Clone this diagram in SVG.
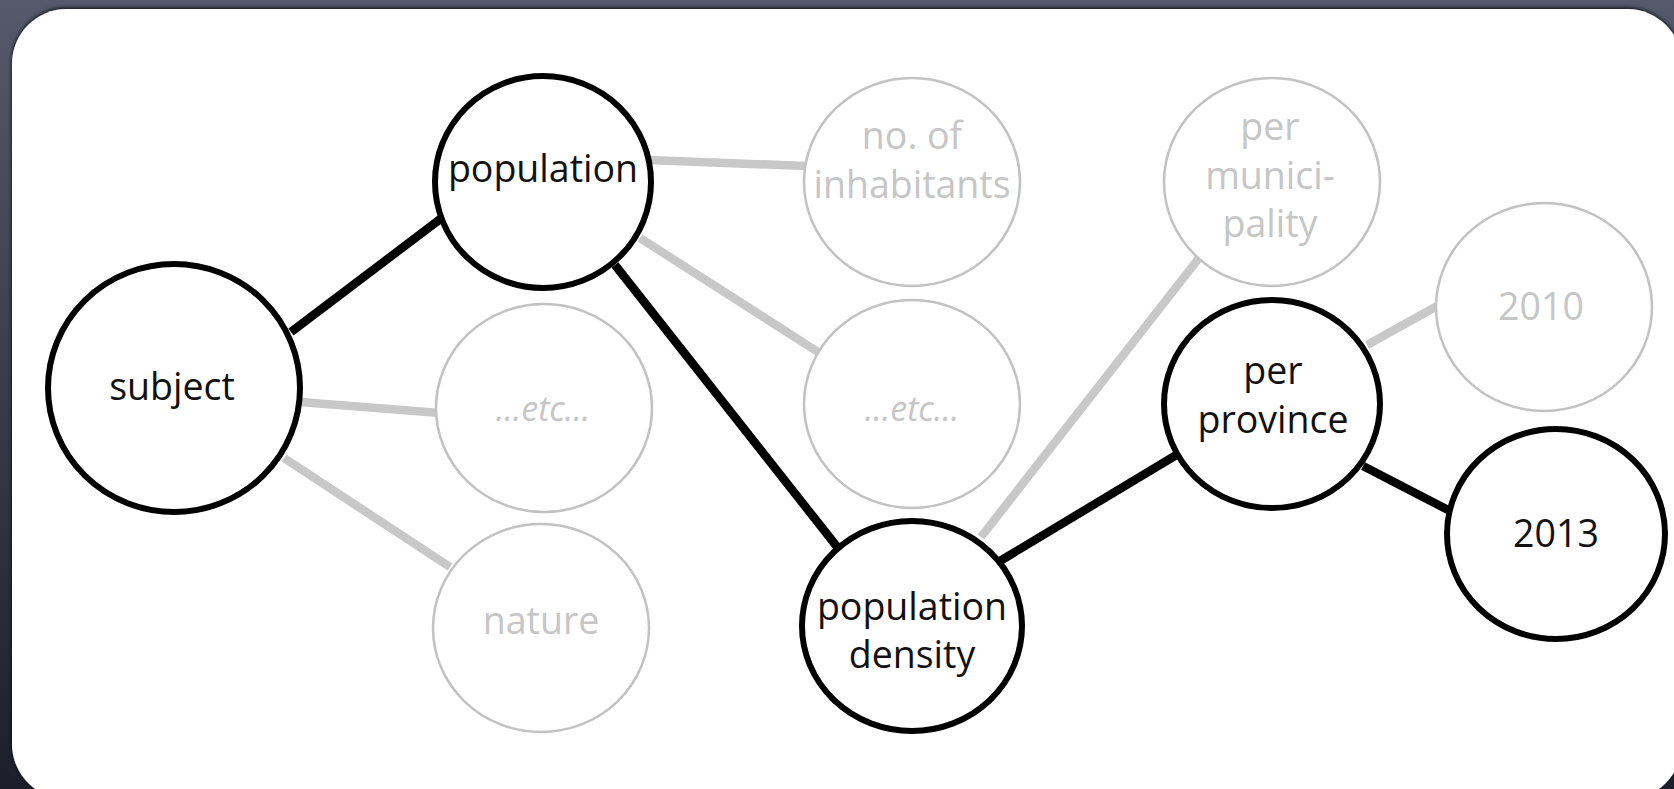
<svg xmlns="http://www.w3.org/2000/svg" width="1674" height="789" viewBox="0 0 1674 789">
  <defs>
    <linearGradient id="bg" x1="0" y1="0" x2="0" y2="1">
      <stop offset="0" stop-color="#545a6b"/>
      <stop offset="0.5" stop-color="#383c4a"/>
      <stop offset="1" stop-color="#1c1f29"/>
    </linearGradient>
    <filter id="sh" x="-5%" y="-5%" width="110%" height="110%">
      <feGaussianBlur in="SourceAlpha" stdDeviation="2"/>
      <feOffset dx="0" dy="-1" result="b"/>
      <feFlood flood-color="#000" flood-opacity="0.9"/>
      <feComposite in2="b" operator="in"/>
      <feMerge><feMergeNode/><feMergeNode in="SourceGraphic"/></feMerge>
    </filter>
    <style>
      .on { fill: #fff; stroke: #000; stroke-width: 6; }
      .off { fill: #fff; stroke: #c2c2c2; stroke-width: 2.5; }
      .lon { stroke: #000; stroke-width: 8.5; stroke-linecap: butt; }
      .loff { stroke: #c8c8c8; stroke-width: 8.5; stroke-linecap: butt; }
      text { font-family: "Open Sans", "Noto Sans", "Liberation Sans", sans-serif; font-size: 37.5px; text-anchor: middle; }
      .t { fill: #111; }
      .g { fill: #c6c6c6; }
      .i { font-style: italic; font-size: 34px; }
    </style>
  </defs>
  <rect x="0" y="0" width="1674" height="789" fill="url(#bg)"/>
  <rect x="12" y="9" width="1670" height="790" rx="55" ry="55" fill="#fff" filter="url(#sh)"/>

  <g id="connectors">
    <line class="lon" x1="291" y1="332" x2="443" y2="217"/>
    <line class="loff" x1="300" y1="402" x2="440" y2="413"/>
    <line class="loff" x1="284" y1="458" x2="450" y2="567"/>
    <line class="loff" x1="648" y1="160" x2="806" y2="166"/>
    <line class="loff" x1="640" y1="238" x2="818" y2="352"/>
    <line class="lon" x1="615" y1="265" x2="838" y2="548"/>
    <line class="loff" x1="981" y1="537" x2="1199" y2="258"/>
    <line class="lon" x1="1000" y1="561" x2="1178" y2="454"/>
    <line class="loff" x1="1367" y1="345" x2="1439" y2="305"/>
    <line class="lon" x1="1363" y1="466" x2="1452" y2="512"/>
  </g>

  <g id="n-subject">
    <ellipse class="on" cx="174" cy="388" rx="126" ry="124"/>
    <text class="t" x="172" y="400">subject</text>
  </g>
  <g id="n-population">
    <ellipse class="on" cx="543" cy="182" rx="108" ry="106"/>
    <text class="t" x="543" y="182">population</text>
  </g>
  <g id="n-etc1">
    <ellipse class="off" cx="544" cy="408" rx="108" ry="104"/>
    <text class="g i" x="543" y="421">...etc...</text>
  </g>
  <g id="n-nature">
    <ellipse class="off" cx="541" cy="628" rx="108" ry="104"/>
    <text class="g" x="541" y="634">nature</text>
  </g>
  <g id="n-inhabitants">
    <ellipse class="off" cx="912" cy="182" rx="108" ry="104"/>
    <text class="g" x="912" y="149">no. of</text>
    <text class="g" x="912" y="198">inhabitants</text>
  </g>
  <g id="n-etc2">
    <ellipse class="off" cx="912" cy="404" rx="108" ry="104"/>
    <text class="g i" x="912" y="421">...etc...</text>
  </g>
  <g id="n-density">
    <ellipse class="on" cx="912" cy="626" rx="110" ry="105"/>
    <text class="t" x="912" y="620">population</text>
    <text class="t" x="912" y="668">density</text>
  </g>
  <g id="n-municipality">
    <ellipse class="off" cx="1272" cy="182" rx="108" ry="104"/>
    <text class="g" x="1270" y="140">per</text>
    <text class="g" x="1270" y="189">munici-</text>
    <text class="g" x="1270" y="237">pality</text>
  </g>
  <g id="n-province">
    <ellipse class="on" cx="1272" cy="404" rx="108" ry="104"/>
    <text class="t" x="1273" y="384">per</text>
    <text class="t" x="1273" y="433">province</text>
  </g>
  <g id="n-2010">
    <ellipse class="off" cx="1544" cy="307" rx="108" ry="104"/>
    <text class="g" x="1541" y="320">2010</text>
  </g>
  <g id="n-2013">
    <ellipse class="on" cx="1556" cy="534" rx="109" ry="105"/>
    <text class="t" x="1556" y="547">2013</text>
  </g>
</svg>
